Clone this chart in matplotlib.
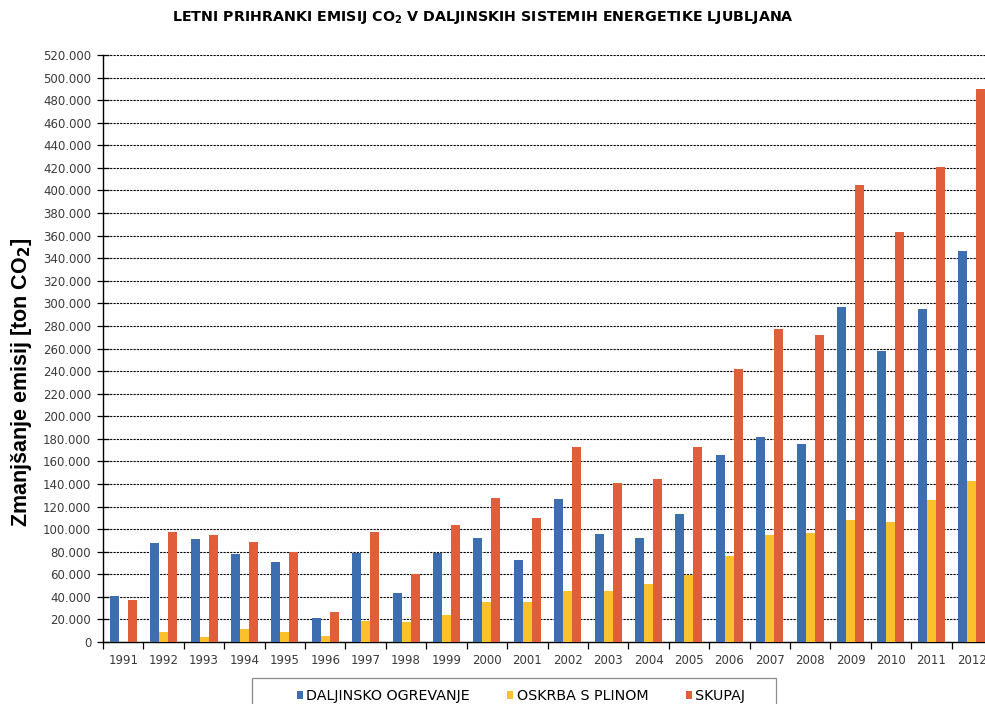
import matplotlib
matplotlib.use("Agg")
import matplotlib.pyplot as plt
import numpy as np
from matplotlib.ticker import FuncFormatter, MultipleLocator
from matplotlib.patches import Patch, Rectangle

# Annual CO2 emission savings (tons) in Ljubljana district energy systems
years = [str(y) for y in range(1991, 2013)]
daljinsko_ogrevanje = [41000, 88000, 91000, 78000, 71000, 21000, 79000, 43000, 79000, 92000, 73000,
                       127000, 96000, 92000, 113000, 166000, 182000, 175000, 297000, 258000, 295000, 346000]
oskrba_s_plinom = [0, 9000, 4000, 11500, 9000, 5000, 19000, 18000, 24000, 35000, 35000,
                   45000, 45000, 51000, 59000, 76000, 95000, 97000, 108000, 106000, 126000, 143000]
skupaj = [37000, 97500, 95000, 89000, 79500, 27000, 97500, 60000, 104000, 128000, 110000,
          173000, 141000, 144000, 173000, 242000, 277500, 272000, 405000, 363000, 420500, 490000]
series_names = ["DALJINSKO OGREVANJE", "OSKRBA S PLINOM", "SKUPAJ"]

colors = ["#3d6eb0", "#fbc12c", "#e05f3a"]
text_color = "#3a3a3a"

W, H = 985, 704
fig = plt.figure(figsize=(W / 100, H / 100), dpi=100)
fig.patch.set_facecolor("white")
ax = fig.add_axes([103 / W, 1 - 642 / H, 889 / W, 587 / H])

x = np.arange(len(years))
w = 0.223
for off, vals, c in zip((-w, 0, w), (daljinsko_ogrevanje, oskrba_s_plinom, skupaj), colors):
    ax.bar(x + off, vals, width=w, color=c, zorder=3, linewidth=0)

ax.set_xlim(-0.5, len(years) - 0.5)
ax.set_ylim(0, 520000)

# horizontal dashed gridlines
ax.yaxis.set_major_locator(MultipleLocator(20000))
ax.yaxis.grid(True, color="black", linestyle=(0, (2.0, 1.0)), linewidth=0.8, zorder=1)
ax.set_axisbelow(True)
ax.yaxis.set_major_formatter(FuncFormatter(lambda v, p: "0" if v == 0 else f"{int(v):,}".replace(",", ".")))

# year labels in category centres, tick marks at category boundaries
ax.set_xticks(x)
ax.set_xticklabels(years)
ax.set_xticks(np.arange(-0.5, len(years)), minor=True)
ax.tick_params(axis="x", which="major", length=0, pad=9, labelsize=8.5, labelcolor=text_color)
ax.tick_params(axis="x", which="minor", length=5, width=0.9, direction="out", color="black")
ax.tick_params(axis="y", which="major", length=9, width=0.9, direction="inout", pad=4,
               labelsize=8.5, labelcolor=text_color, color="black")

for s in ("top", "right"):
    ax.spines[s].set_visible(False)
for s in ("left", "bottom"):
    ax.spines[s].set_color("black")
    ax.spines[s].set_linewidth(1.0)

fig.text(483 / W, 1 - 18 / H,
         "LETNI PRIHRANKI EMISIJ CO$_\\mathbf{2}$ V DALJINSKIH SISTEMIH ENERGETIKE LJUBLJANA",
         ha="center", va="center", fontsize=10.3, fontweight="bold", color="black")

fig.text(22 / W, 1 - 382 / H, "Zmanjšanje emisij [ton CO$_\\mathbf{2}$]",
         rotation=90, ha="center", va="center", fontsize=15.5, fontweight="bold",
         family="Liberation Sans", color="black")

# legend entries plus a wide outer frame running off the bottom edge
handles = [Patch(facecolor=c, edgecolor="none") for c in colors]
fig.legend(handles, series_names, loc="center", ncol=3,
           bbox_to_anchor=(521 / W, 1 - 696 / H), frameon=False,
           handlelength=0.42, handleheight=0.42, handletextpad=0.25, columnspacing=2.6,
           borderpad=0, borderaxespad=0, fontsize=10.3, labelcolor="black")
fig.patches.append(Rectangle((252 / W, -0.05), (776 - 252) / W, 0.05 + (H - 678) / H,
                             transform=fig.transFigure, fill=False,
                             edgecolor="#8c8c8c", linewidth=0.9))

fig.savefig("out.png", dpi=100)
